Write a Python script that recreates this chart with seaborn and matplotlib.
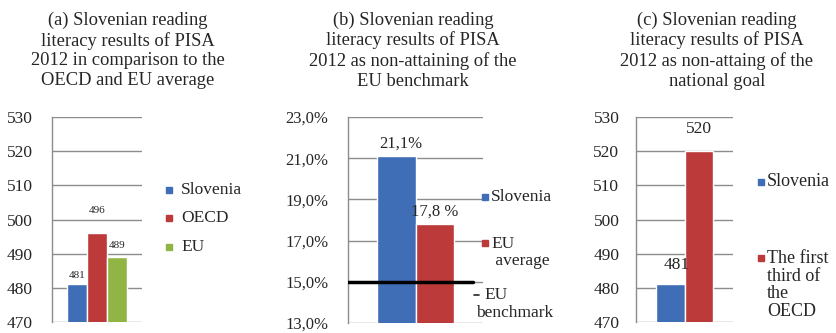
import matplotlib
matplotlib.use("Agg")
import matplotlib.pyplot as plt
import seaborn as sns
import pandas as pd
from matplotlib.patches import Rectangle
from matplotlib.lines import Line2D

# ---------------- data ----------------
a_series = ["Slovenia", "OECD", "EU"]
a_values = [481, 496, 489]
a_labels = ["481", "496", "489"]
a_ticks = [470, 480, 490, 500, 510, 520, 530]

b_series = ["Slovenia", "EU average"]
b_values = [21.1, 17.8]
b_labels = ["21,1%", "17,8 %"]
b_benchmark = 15.0
b_ticks = [13, 15, 17, 19, 21, 23]
b_ticklabels = ["13,0%", "15,0%", "17,0%", "19,0%", "21,0%", "23,0%"]

c_series = ["Slovenia", "The first third of the OECD"]
c_values = [481, 520]
c_labels = ["481", "520"]
c_ticks = [470, 480, 490, 500, 510, 520, 530]

titles = [
    "(a) Slovenian reading\nliteracy results of PISA\n2012 in comparison to the\nOECD and EU average",
    "(b) Slovenian reading\nliteracy results of PISA\n2012 as non-attaining of the\nEU benchmark",
    "(c) Slovenian reading\nliteracy results of PISA\n2012 as non-attaing of the\nnational goal",
]

BLUE = "#3F6DB6"
RED = "#BC3A3A"
GREEN = "#90B545"
GRID = "#8C8C8C"
TXT = "#262626"

sns.set_theme(style="white")
plt.rcParams["font.family"] = ["Liberation Serif", "DejaVu Serif"]
plt.rcParams["text.color"] = TXT

W, H = 836, 333
fig = plt.figure(figsize=(W / 100, H / 100), dpi=100)


def add_ax(left, right, top, bottom):
    return fig.add_axes([left / W, 1 - bottom / H, (right - left) / W, (bottom - top) / H])


def style_ax(ax, ticks, ticklabels, ylim, fs, pad, gridright=1.0):
    ax.set_ylim(*ylim)
    ax.set_xlim(-0.5, 0.5)
    ax.set_yticks(ticks)
    ax.set_yticklabels(ticklabels, fontsize=fs, color=TXT)
    ax.tick_params(axis="y", length=0, pad=pad)
    ax.set_xticks([])
    ax.set_xlabel("")
    ax.set_ylabel("")
    for s in ["top", "right", "bottom"]:
        ax.spines[s].set_visible(False)
    ax.spines["left"].set_color(GRID)
    ax.spines["left"].set_linewidth(1.0)
    for t in ticks:
        ax.axhline(t, color=GRID, lw=1.0, zorder=0.5, xmax=gridright)


def legend_sq(x, y, color, size=6):
    fig.add_artist(Rectangle(((x) / W, 1 - (y + size / 2) / H), size / W, size / H,
                             transform=fig.transFigure, color=color))


# ---------------- panel (a) ----------------
axa = add_ax(52, 142, 117, 322)
dfa = pd.DataFrame({"g": ["x"] * 3, "series": a_series, "value": a_values})
sns.barplot(data=dfa, x="g", y="value", hue="series", palette=[BLUE, RED, GREEN],
            width=0.667, saturation=1, legend=False, ax=axa, zorder=2)
style_ax(axa, a_ticks, [str(t) for t in a_ticks], (470, 530), 12.5, 14)
offs_a = [3, 13, 5]
for p, lab, off in zip(axa.patches, a_labels, offs_a):
    axa.annotate(lab, (p.get_x() + p.get_width() / 2, p.get_height()), xytext=(0, off),
                 textcoords="offset points", ha="center", va="bottom", fontsize=8, color=TXT)

# ---------------- panel (b) ----------------
axb = add_ax(348, 483, 117, 323)
dfb = pd.DataFrame({"g": ["x"] * 2, "series": b_series, "value": b_values})
sns.barplot(data=dfb, x="g", y="value", hue="series", palette=[BLUE, RED],
            width=0.57, saturation=1, legend=False, ax=axb, zorder=2)
style_ax(axb, b_ticks, b_ticklabels, (13, 23), 12, 14)
axb.axhline(b_benchmark, color="black", lw=2.5, xmax=0.926, zorder=3)
offs_b = [(3, 3), (0, 3)]
for p, lab, off in zip(axb.patches, b_labels, offs_b):
    axb.annotate(lab, (p.get_x() + p.get_width() / 2, p.get_height()), xytext=off,
                 textcoords="offset points", ha="center", va="bottom", fontsize=12, color=TXT)

# ---------------- panel (c) ----------------
axc = add_ax(636, 733, 117, 322)
dfc = pd.DataFrame({"g": ["x"] * 2, "series": c_series, "value": c_values})
sns.barplot(data=dfc, x="g", y="value", hue="series", palette=[BLUE, RED],
            width=0.59, saturation=1, legend=False, ax=axc, zorder=2)
style_ax(axc, c_ticks, [str(t) for t in c_ticks], (470, 530), 12.5, 12)
offs_c = [(5, 8), (0, 10)]
for p, lab, off in zip(axc.patches, c_labels, offs_c):
    axc.annotate(lab, (p.get_x() + p.get_width() / 2, p.get_height()), xytext=off,
                 textcoords="offset points", ha="center", va="bottom", fontsize=12.5, color=TXT)

# ---------------- titles ----------------
for xc, t in zip([128, 413, 717], titles):
    fig.text(xc / W, 1 - 50.5 / H, t, ha="center", va="center", fontsize=13.3,
             linespacing=1.2, color=TXT)

# ---------------- legends ----------------
# (a)
for (lab, col), y in zip(zip(a_series, [BLUE, RED, GREEN]), [190, 218, 247]):
    legend_sq(166, y, col)
    fig.text(181 / W, 1 - y / H, lab, ha="left", va="center", fontsize=12.5, color=TXT)

# (b)
legend_sq(482, 197, BLUE)
fig.text(491 / W, 1 - 197 / H, "Slovenia", ha="left", va="center", fontsize=12.5, color=TXT)
legend_sq(482, 243, RED)
fig.text(491 / W, 1 - 236 / H, "EU\n average", ha="left", va="top", fontsize=12.5,
         linespacing=1.05, color=TXT)
fig.add_artist(Line2D([474 / W, 479 / W], [1 - 295 / H, 1 - 295 / H],
                      transform=fig.transFigure, color=TXT, lw=1.2))
fig.text(484 / W, 1 - 287 / H, "EU", ha="left", va="top", fontsize=12.5, color=TXT)
fig.text(476 / W, 1 - 305 / H, "benchmark", ha="left", va="top", fontsize=12.5, color=TXT)

# (c)
legend_sq(758, 182, BLUE)
fig.text(767 / W, 1 - 182 / H, "Slovenia", ha="left", va="center", fontsize=13, color=TXT)
legend_sq(758, 258, RED)
fig.text(767 / W, 1 - 250 / H, "The first\nthird of\nthe\nOECD", ha="left", va="top",
         fontsize=13, linespacing=1.05, color=TXT)

fig.savefig("out.png", dpi=100, facecolor="white")
